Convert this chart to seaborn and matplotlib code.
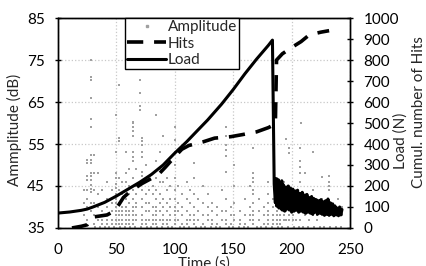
import numpy as np
import pandas as pd
import matplotlib
matplotlib.use("Agg")
import matplotlib.pyplot as plt
import seaborn as sns
from matplotlib.lines import Line2D

# acoustic emission hits: time (s) -> amplitudes (dB) read column by column
amp_columns = {
    22: [44, 41, 38],
    25: [51.2, 50.4, 47.3, 46.5, 44, 42, 40, 37],
    28: [75, 71, 70.2, 66, 61, 59, 52.4, 51.2, 50.4, 48.1, 47.3, 46.5, 45.3, 44.3, 43.5, 41, 39],
    31: [52.4, 48.1, 44, 41, 38, 36],
    34: [48.1, 43, 40, 37],
    38: [44, 41, 39, 37, 36],
    42: [46, 42, 40, 38, 37, 36],
    46: [44, 41, 39, 37, 36],
    50: [62, 53.2, 48, 47, 45.5, 44.5, 43, 42, 41, 40, 39, 38, 37, 36],
    52: [69, 56.4, 55.7, 47, 44, 41, 39, 38, 37, 36],
    55: [46, 43, 40, 39, 38, 37, 36],
    58: [53.2, 48, 46, 44, 42, 40, 39, 38, 37, 36],
    61: [49, 45, 43, 41, 39, 38, 37, 36],
    64: [60.2, 60, 59, 58, 57, 53.2, 52, 50.9, 47, 44, 42, 40, 39, 38, 37, 36],
    67: [49, 45, 43, 41, 40, 38, 37],
    70: [70.2, 67.1, 64, 63],
    72: [56.4, 55.6, 54.8, 53.2, 52, 48.4, 47.4, 46, 44, 42, 40, 38, 37, 36],
    75: [50, 46, 43, 41, 39, 37, 36],
    78: [44, 41, 39, 37],
    81: [48, 45, 43, 40, 38, 37, 36],
    84: [62, 51, 47, 44, 42, 40, 39, 38, 37, 36],
    87: [53, 49, 46, 43, 41, 39, 37],
    90: [57, 50, 46, 42, 40, 38, 37, 36],
    93: [47, 44, 41, 39, 37, 36],
    96: [51, 45, 42, 40, 38, 37],
    100: [59, 56, 53, 50, 47, 44, 42, 40, 39, 38, 37, 36],
    103: [45, 41, 39, 37],
    106: [43, 40, 38, 36],
    110: [46, 42, 39, 37, 36],
    113: [44, 41, 38, 37],
    116: [50.5, 47, 43, 40, 38, 37, 36],
    120: [42, 39, 37],
    124: [45, 41, 38, 36],
    128: [43, 40, 38, 37],
    132: [41, 39, 37, 36],
    136: [40, 38, 36],
    140: [44, 39, 37],
    144: [59, 57, 54.8, 53.5, 52.2, 48.3, 42, 39, 37, 36],
    148: [40, 38, 36],
    151: [50, 45, 41, 38, 37],
    156: [39, 37, 36],
    160: [42, 38, 36],
    164: [45, 40, 38, 37],
    167: [54, 48, 47, 46, 44, 43, 41, 39, 38, 37, 36],
    172: [42, 39, 37],
    176: [40, 38, 36],
    180: [46, 43, 41, 39, 38, 37, 36],
    184: [42, 40, 38, 37, 36],
    187: [47, 44, 42, 40, 39, 38, 37, 36],
    190: [45, 42, 40, 38, 37, 36],
    193: [46, 43, 41, 39, 38, 37],
    195: [56.2, 44, 41, 39, 37],
    198: [54.1, 52.8, 45, 42, 40, 38, 37],
    201: [43, 40, 38, 37],
    204: [44, 41, 39, 37],
    207: [54, 51, 49.5, 48, 46, 42, 39, 37],
    208: [60],
    211: [48, 43, 40, 38],
    215: [42, 39, 37],
    218: [53, 44, 40, 38],
    222: [41, 38, 37],
    226: [47.2, 42, 39],
    229: [40, 38],
    232: [47.4, 46, 45, 44, 41, 38],
    236: [40, 38],
    240: [42, 39],
    243: [40, 38],
}
baseline_times = [32, 36, 40, 44, 48, 53, 57, 62, 66, 71, 76, 80, 85, 89, 94, 98,
                  104, 108, 112, 118, 122, 126, 131, 135, 139, 146, 150, 155, 159,
                  163, 170, 174, 178, 183, 188, 192, 197, 202, 206, 210, 214, 219,
                  224, 228, 233, 238, 242]

load_time = [0, 10, 20, 25, 30, 40, 50, 60, 70, 80, 90, 100, 110, 120, 128, 140,
             150, 160, 170, 180, 183.5, 185,
             186, 186.5, 187, 187.5, 188, 188.5, 189, 189.5, 190, 190.5, 191, 191.5,
             192, 193, 194, 195, 196, 197, 198, 199,
             200, 201, 202, 203, 204, 205, 206, 207, 208, 209, 210, 211, 212, 213,
             214, 215, 216, 217, 218, 219, 220, 221, 222, 223, 224, 225, 226, 227,
             228, 229, 230, 231, 232, 233, 234, 235, 236, 237, 238, 239, 240, 241,
             242, 243]
load_newton = [71, 76, 84, 90, 100, 122, 152, 185, 218, 255, 300, 357, 410, 468, 514, 590,
               660, 735, 805, 870, 895, 210,
               120, 235, 105, 225, 150, 230, 95, 215, 120, 200, 90, 225,
               85, 205, 80, 195, 90, 200, 85, 190,
               75, 185, 80, 175, 85, 180, 75, 165, 80, 170, 75, 155, 70, 160,
               75, 145, 70, 150, 65, 140, 75, 135, 65, 130, 70, 135, 65, 125,
               60, 130, 65, 138, 60, 120, 65, 115, 58, 105, 62, 95, 58, 100,
               62, 88]

hits_time = [12, 20, 25, 28, 30, 42, 48, 52, 56, 60, 64, 72, 78, 86, 92, 100, 106,
             112, 124, 134, 148, 158, 170, 180, 186, 187, 192, 200, 208, 215, 225, 232]
hits_count = [0, 8, 15, 40, 52, 62, 80, 110, 145, 165, 182, 212, 230, 255, 290, 340, 375,
              393, 410, 428, 435, 445, 458, 478, 495, 800, 830, 860, 888, 920, 933, 940]

amp_df = pd.DataFrame(
    [(t, a) for t, amps in amp_columns.items() for a in amps] +
    [(t, 35.3) for t in baseline_times],
    columns=["Time", "Amplitude"])

sns.set_style("white")
plt.rcParams["font.family"] = ["Lato", "DejaVu Sans"]

fig = plt.figure(figsize=(4.26, 2.66), dpi=100)
ax = fig.add_axes([0.136, 0.143, 0.686, 0.789])
sns.scatterplot(data=amp_df, x="Time", y="Amplitude", ax=ax, color="#a0a0a0",
                s=4, marker="s", linewidth=0, legend=False, zorder=2)
ax.set_xlim(0, 250)
ax.set_ylim(35, 85)
ax.set_xticks(range(0, 251, 50))
ax.set_yticks(range(35, 86, 10))
ax.grid(True, linestyle=":", color="#c8c8c8", linewidth=0.9)
ax.set_axisbelow(True)
ax.set_xlabel("Time (s)", fontsize=11, labelpad=0)
ax.set_ylabel("")

ax2 = ax.twinx()
sns.lineplot(x=hits_time, y=hits_count, ax=ax2, color="black", linewidth=2.6,
             linestyle=(0, (4.5, 3)), estimator=None, sort=False)
sns.lineplot(x=load_time, y=load_newton, ax=ax2, color="black", linewidth=2.2,
             estimator=None, sort=False)
ax2.set_ylim(0, 1000)
ax2.set_yticks(range(0, 1001, 100))
ax2.set_ylabel("")

for a in (ax, ax2):
    a.tick_params(direction="inout", length=5, width=1, labelsize=11, pad=7,
                  color="black", labelcolor="black")
    for sp in a.spines.values():
        sp.set_color("black")
        sp.set_linewidth(1)
ax.tick_params(axis="x", pad=8)

handles = [
    Line2D([], [], color="#a0a0a0", marker="s", markersize=2, linestyle="none"),
    Line2D([], [], color="black", linewidth=2.6, linestyle=(0, (4.5, 3))),
    Line2D([], [], color="black", linewidth=2.2),
]
leg = ax2.legend(handles, ["Amplitude", "Hits", "Load"], loc="upper left",
                 bbox_to_anchor=(0.23, 1.0), fontsize=11, frameon=True,
                 fancybox=False, framealpha=1, edgecolor="black",
                 handlelength=2.5, handletextpad=0.15, labelspacing=0.15,
                 borderpad=0.15, borderaxespad=0)
leg.get_frame().set_linewidth(1)

fig.text(0.035, 0.51, "Ammplitude (dB)", rotation=90, ha="center", va="center", fontsize=11)
fig.text(0.94, 0.47, "Load (N)", rotation=90, ha="center", va="center", fontsize=11)
fig.text(0.984, 0.58, "Cumul. number of Hits", rotation=90, ha="center", va="center", fontsize=11)

fig.savefig("out.png", dpi=100)
